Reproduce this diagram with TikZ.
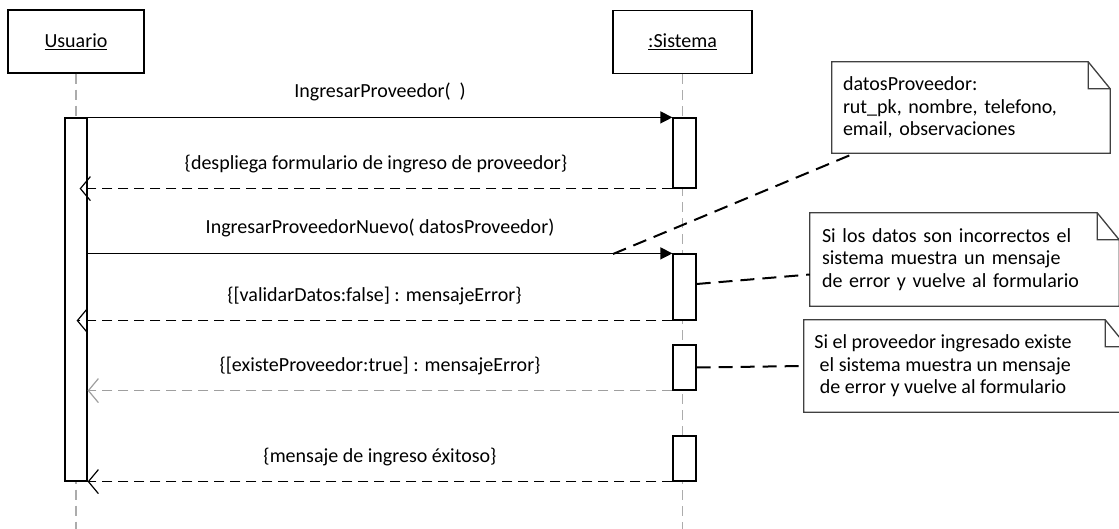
\documentclass[tikz,border=0pt]{standalone}
\usepackage{fontspec}
\setmainfont{Carlito}
\usetikzlibrary{arrows.meta, positioning}

\begin{document}
\begin{tikzpicture}[x=1pt, y=-1pt, font=\fontsize{20}{22.5}\selectfont,
  obj/.style={draw, line width=1.2pt, inner sep=0pt, minimum height=63pt},
  act/.style={draw, fill=white, line width=1.2pt, inner sep=0pt, minimum width=23pt},
  life/.style={gray!65, line width=1.5pt, dash pattern=on 10pt off 6pt},
  call/.style={line width=1.2pt, -{Triangle[length=12pt, width=12pt]}},
  ret/.style={line width=1.5pt, dash pattern=on 10pt off 6pt, -{Straight Barb[length=10pt, width=24pt, line width=1.2pt]}},
  lbl/.style={midway, yshift=25pt, text=black},
  notebox/.style={inner ysep=0pt, align=left},
  noteline/.style={draw=black!75, line width=1.3pt, line join=miter},
  link/.style={line width=2pt, dash pattern=on 14pt off 8pt}]
\path[use as bounding box, fill=white] (0,0) rectangle (1119,529);
% Lifelines
\node[obj, minimum width=136pt] (usr) at (76,41.5) {\underline{Usuario}};
\node[obj, minimum width=139pt] (sis) at (682.5,42) {\underline{:Sistema}};
\draw[life] (usr.south) -- (usr.south |- 0,529);
\draw[life] (sis.south) -- (sis.south |- 0,529);
% Activations
\node[act, minimum width=22pt, minimum height=363pt] (ua) at (76,299.5) {};
\node[act, minimum height=70pt] (s1) at (684.5,153) {};
\node[act, minimum height=66pt] (s2) at (684.5,287) {};
\node[act, minimum height=45pt] (s3) at (684.5,367.5) {};
\node[act, minimum height=45pt] (s4) at (684.5,458.5) {};
% Messages
\draw[call] (ua.north east) -- node[lbl]{IngresarProveedor(\ \ )} (s1.north west);
\draw[ret] (s1.south west) -- node[lbl]{\{despliega formulario de ingreso de proveedor\}} ([xshift=-8pt]ua.east |- s1.south);
\draw[call] (ua.east |- s2.north) -- node[lbl]{IngresarProveedorNuevo( datosProveedor)} (s2.north west);
\draw[ret] (s2.south west) -- node[lbl]{\{[validarDatos:false] : mensajeError\}} ([xshift=-11pt]ua.east |- s2.south);
\draw[ret, gray!75] (s3.south west) -- node[lbl]{\{[existeProveedor:true] : mensajeError\}} (ua.east |- s3.south);
\draw[ret] (s4.south west) -- node[lbl]{\{mensaje de ingreso éxitoso\}} (ua.south east);
% Notes
\node[notebox, text width=256pt, inner xsep=11pt, minimum height=91pt] (n1) at (971,107.5)
  {datosProveedor:\\ rut\_pk, nombre, telefono,\\ email, observaciones};
\node[notebox, text width=285pt, inner xsep=12pt, minimum height=93pt] (n2) at (964.5,259.5)
  {Si los datos son incorrectos el\\ sistema muestra un mensaje\\ de error y vuelve al formulario};
\node[notebox, minimum width=323pt, minimum height=92pt] (n3) at (965.5,366) {};
\node[align=center] (n3txt) at (943,366)
  {Si el proveedor ingresado existe\\ \ el sistema muestra un mensaje\\ de error y vuelve al formulario};
\foreach \n in {n1,n2,n3}
  \draw[noteline] (\n.north west) -- ([xshift=-22pt]\n.north east) -- ([yshift=-27pt]\n.north east)
    -- (\n.south east) -- (\n.south west) -- cycle
    ([xshift=-22pt]\n.north east) |- ([yshift=-27pt]\n.north east);
\coordinate (c1) at (613,254);
\draw[link] (c1) -- ([xshift=23pt]n1.south west);
\draw[link] ([yshift=3pt]s2.east) -- ([yshift=-15pt]n2.west);
\draw[link] (s3.east) -- (n3.west);
\end{tikzpicture}
\end{document}
